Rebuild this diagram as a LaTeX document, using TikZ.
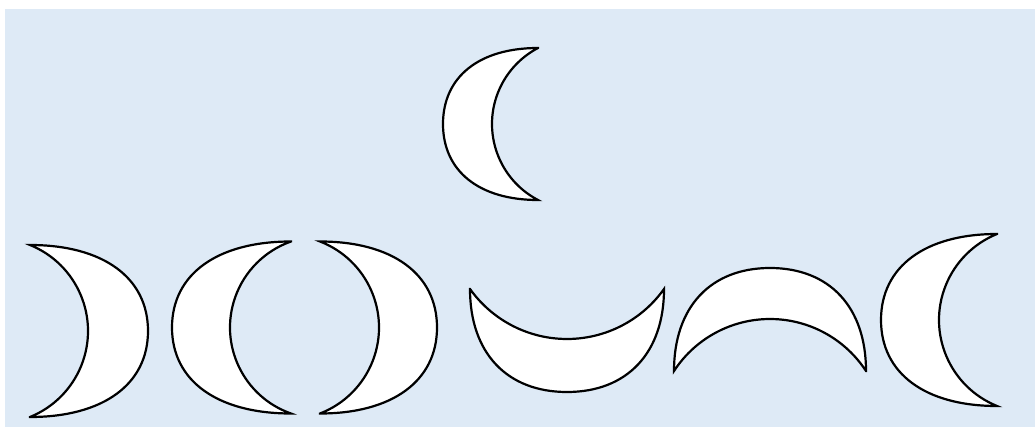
\documentclass[tikz,border=0pt]{standalone}
\definecolor{bgblue}{HTML}{DEEAF6}
\tikzset{
  moonline/.style={draw=black, fill=white, line width=2.2pt, line join=miter},
  pics/moon/.style n args={3}{code={
    \pgfmathsetmacro\ma{#1}%
    \pgfmathsetmacro\mb{#2}%
    \pgfmathsetmacro\mi{#3}%
    \pgfmathsetmacro\mr{(\mi*\mi+\mb*\mb)/(2*\mi)}%
    \pgfmathsetmacro\mphi{atan(\mb/(\mr-\mi))}%
    \path[moonline] (0,\mb) .. controls ({-0.62*\ma},\mb) and (-\ma,{0.62*\mb}) .. (-\ma,0)
      .. controls (-\ma,{-0.62*\mb}) and ({-0.62*\ma},-\mb) .. (0,-\mb)
      arc[start angle={180+\mphi}, end angle={180-\mphi}, radius=\mr] -- cycle;
  }}
}
\begin{document}
\begin{tikzpicture}[x=1pt,y=1pt]
  \useasboundingbox (0,0) rectangle (1035,-427);
  \fill[white] (0,0) rectangle (1035,-427);
  \fill[bgblue] (5,-9) rectangle (1035,-427);
  % top crescent
  \pic (mtop) at (538,-124) {moon={95}{76}{46}};
  % bottom row
  \pic[rotate=180] (m1) at (30,-331) {moon={118}{86}{58}};
  \pic (m2) at (291,-327.5) {moon={119}{86}{61}};
  \pic[rotate=180] (m3) at (320,-327.5) {moon={117}{86}{59}};
  \pic[rotate=90] (m4) at (567,-289) {moon={103}{97}{50}};
  \pic[rotate=-90] (m5) at (770,-371) {moon={103}{96}{52}};
  \pic (m6) at (997,-320) {moon={116}{86}{58}};
\end{tikzpicture}
\end{document}
